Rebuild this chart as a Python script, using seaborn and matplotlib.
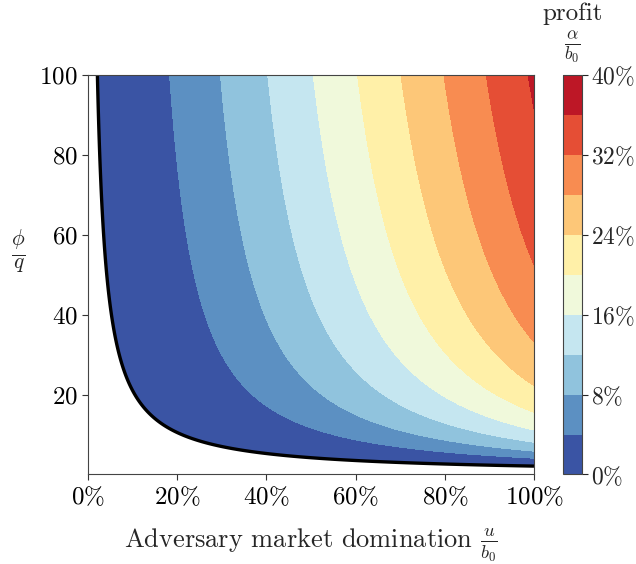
import numpy as np
import matplotlib
matplotlib.use("Agg")
import matplotlib.pyplot as plt
import seaborn as sns
from matplotlib.ticker import FuncFormatter

# values
x_ticks = [0.0, 0.2, 0.4, 0.6, 0.8, 1.0]
y_ticks = [20, 40, 60, 80, 100]
levels = [0.00, 0.04, 0.08, 0.12, 0.16, 0.20, 0.24, 0.28, 0.32, 0.36, 0.40]
cbar_ticks = [0.00, 0.08, 0.16, 0.24, 0.32, 0.40]

# profit surface fitted to the contour crossings:
# profit = scale * (sqrt(u/b0) - sqrt(k / (phi/q)))^2, zero where u/b0 * phi/q = k
scale = 0.5
k_break = 2.1
x_range = (0.0, 1.0)
y_range = (0.0, 100.0)

sns.set_style("ticks")
plt.rcParams["font.family"] = "serif"
plt.rcParams["font.serif"] = ["cmr10"]
plt.rcParams["mathtext.fontset"] = "cm"
plt.rcParams["axes.formatter.use_mathtext"] = True
plt.rcParams["axes.unicode_minus"] = False

xs = np.linspace(x_range[0], x_range[1], 900)
ys = np.linspace(0.3, y_range[1], 900)
X, Y = np.meshgrid(xs, ys)
g = np.sqrt(X) - np.sqrt(k_break / Y)
profit = np.where(g >= 0, scale * g ** 2, np.nan)

fig = plt.figure(figsize=(6.36, 5.64), dpi=100)
ax = fig.add_axes([0.1384, 0.1587, 0.7012, 0.8670 - 0.1587])
cax = fig.add_axes([0.885, 0.1587, 0.030, 0.8670 - 0.1587])

cf = ax.contourf(X, Y, profit, levels=levels, cmap="RdYlBu_r")
ax.contour(X, Y, g, levels=[0], colors="black", linewidths=2.4)

ax.set_xlim(*x_range)
ax.set_ylim(*y_range)
ax.set_xticks(x_ticks)
ax.set_yticks(y_ticks)
ax.xaxis.set_major_formatter(FuncFormatter(lambda v, p: r"$%d\%%$" % round(v * 100)))
ax.yaxis.set_major_formatter(FuncFormatter(lambda v, p: r"$%d$" % round(v)))
ax.tick_params(labelsize=18, length=4, width=0.8, colors="#333333", labelcolor="black")
for s in ax.spines.values():
    s.set_linewidth(0.8)
    s.set_color("#444444")

ax.set_xlabel(r"Adversary market domination $\frac{u}{b_0}$", fontsize=19, labelpad=12.5)
ax.set_ylabel(r"$\frac{\phi}{q}$", fontsize=22, rotation=0)
ax.yaxis.set_label_coords(-0.157, 0.50)

cb = fig.colorbar(cf, cax=cax, ticks=cbar_ticks)
cb.ax.yaxis.set_major_formatter(FuncFormatter(lambda v, p: r"$%d\%%$" % round(v * 100)))
cb.ax.tick_params(labelsize=17, length=4, width=0.8, pad=2.5)
cb.outline.set_linewidth(0.8)
cb.outline.set_edgecolor("#444444")
cax.text(0.5, 1.025, "profit\n" + r"$\frac{\alpha}{b_0}$", transform=cax.transAxes,
         ha="center", va="bottom", fontsize=18, linespacing=1.25)

fig.savefig("out.png", dpi=100)
